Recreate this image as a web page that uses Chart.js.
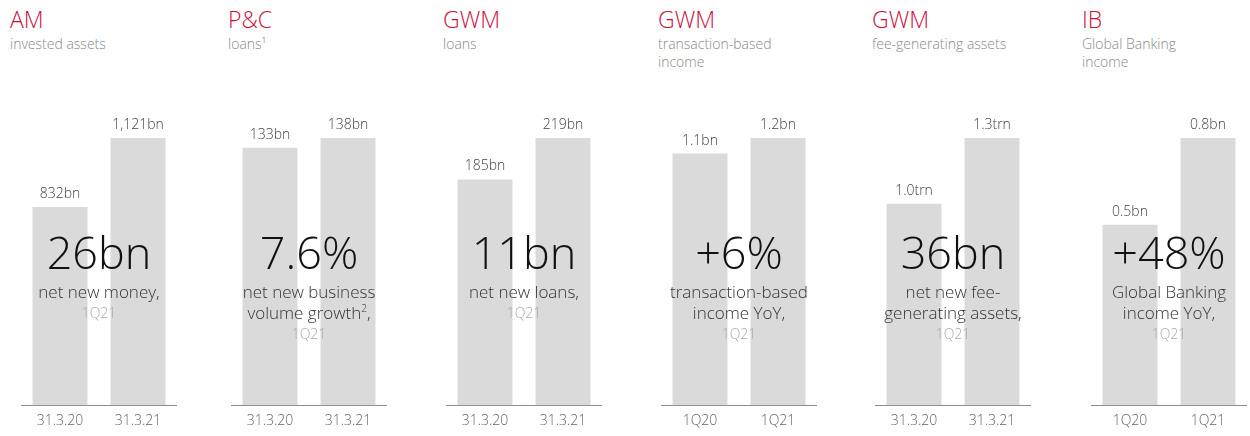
<!DOCTYPE html>
<html>
<head>
<meta charset="utf-8">
<script src="https://cdn.jsdelivr.net/npm/chart.js@4"></script>
<style>
  body { margin: 0; background: #fff; font-family: 'Open Sans', sans-serif; }
  #wrap { position: relative; width: 1250px; height: 436px; overflow: hidden; }
  canvas { position: absolute; top: 100px; }
  .title { position: absolute; top: 3px; font-size: 23px; font-weight: 300; color: #c8103e; }
  .sub { position: absolute; top: 35px; font-size: 14px; line-height: 18px; color: #8a8a8a; font-weight: 300; }
  .over { position: absolute; width: 200px; text-align: center; z-index: 2; }
  .big { font-size: 45px; line-height: 45px; font-weight: 300; color: #111; }
  .note { font-size: 17px; line-height: 21px; color: #333; font-weight: 300; margin-top: 7px; }
  .note sup { font-size: 10px; line-height: 0; }
  .period { font-size: 14px; line-height: 22px; color: #aaa; font-weight: 300; }
</style>
</head>
<body>
<div id="wrap"></div>
<script>
const titles = ["AM", "P&C", "GWM", "GWM", "GWM", "IB"];
const subtitles = [
  ["invested assets"],
  ["loans¹"],
  ["loans"],
  ["transaction-based", "income"],
  ["fee-generating assets"],
  ["Global Banking", "income"]
];
const categories = [
  ["31.3.20", "31.3.21"],
  ["31.3.20", "31.3.21"],
  ["31.3.20", "31.3.21"],
  ["1Q20", "1Q21"],
  ["31.3.20", "31.3.21"],
  ["1Q20", "1Q21"]
];
const values = [
  [832, 1121],
  [133, 138],
  [185, 219],
  [1.13, 1.2],
  [0.98, 1.3],
  [0.54, 0.8]
];
const valueLabels = [
  ["832bn", "1,121bn"],
  ["133bn", "138bn"],
  ["185bn", "219bn"],
  ["1.1bn", "1.2bn"],
  ["1.0trn", "1.3trn"],
  ["0.5bn", "0.8bn"]
];
const headlines = ["26bn", "7.6%", "11bn", "+6%", "36bn", "+48%"];
const notes = [
  ["net new money,"],
  ["net new business", "volume growth<sup>2</sup>,"],
  ["net new loans,"],
  ["transaction-based", "income YoY,"],
  ["net new fee-", "generating assets,"],
  ["Global Banking", "income YoY,"]
];
const period = "1Q21";

// layout
const axisLeft = [21, 231, 446, 661, 875, 1091];
const titleLeft = [10, 228, 443, 658, 872, 1082];
const axisWidth = 156;

Chart.defaults.font.family = "'Open Sans', sans-serif";

const wrap = document.getElementById("wrap");

const valueLabelPlugin = {
  id: "valueLabels",
  afterDatasetsDraw(chart) {
    const ctx = chart.ctx;
    const labels = chart.options.plugins.valueLabels.labels;
    const meta = chart.getDatasetMeta(0);
    ctx.save();
    ctx.font = "300 14px 'Open Sans', sans-serif";
    ctx.fillStyle = "#444";
    ctx.textAlign = "center";
    ctx.textBaseline = "middle";
    meta.data.forEach((bar, i) => {
      ctx.fillText(labels[i], bar.x, bar.y - 13);
    });
    ctx.restore();
  }
};

titles.forEach((t, i) => {
  const title = document.createElement("div");
  title.className = "title";
  title.style.left = titleLeft[i] + "px";
  title.textContent = t;
  wrap.appendChild(title);

  const sub = document.createElement("div");
  sub.className = "sub";
  sub.style.left = titleLeft[i] + "px";
  sub.innerHTML = subtitles[i].join("<br>");
  wrap.appendChild(sub);

  const canvas = document.createElement("canvas");
  canvas.width = axisWidth;
  canvas.height = 336;
  canvas.style.left = axisLeft[i] + "px";
  wrap.appendChild(canvas);

  new Chart(canvas.getContext("2d"), {
    type: "bar",
    data: {
      labels: categories[i],
      datasets: [{
        data: values[i],
        backgroundColor: "#dadada",
        barPercentage: 0.705,
        categoryPercentage: 1
      }]
    },
    options: {
      responsive: false,
      animation: false,
      layout: { padding: { top: 38, bottom: 0, left: 0, right: 0 } },
      plugins: {
        legend: { display: false },
        tooltip: { enabled: false },
        valueLabels: { labels: valueLabels[i] }
      },
      scales: {
        x: {
          grid: { display: false, drawTicks: false },
          border: { display: true, color: "#8c8c8c", width: 1 },
          ticks: { color: "#666", padding: 7, font: { size: 14, weight: 300 } }
        },
        y: {
          display: false,
          min: 0,
          max: Math.max(...values[i])
        }
      }
    },
    plugins: [valueLabelPlugin]
  });

  const over = document.createElement("div");
  over.className = "over";
  over.style.left = (axisLeft[i] + axisWidth / 2 - 100) + "px";
  over.style.top = "229px";
  over.innerHTML =
    '<div class="big">' + headlines[i] + '</div>' +
    '<div class="note">' + notes[i].join("<br>") + '</div>' +
    '<div class="period">' + period + '</div>';
  wrap.appendChild(over);
});
</script>
</body>
</html>
